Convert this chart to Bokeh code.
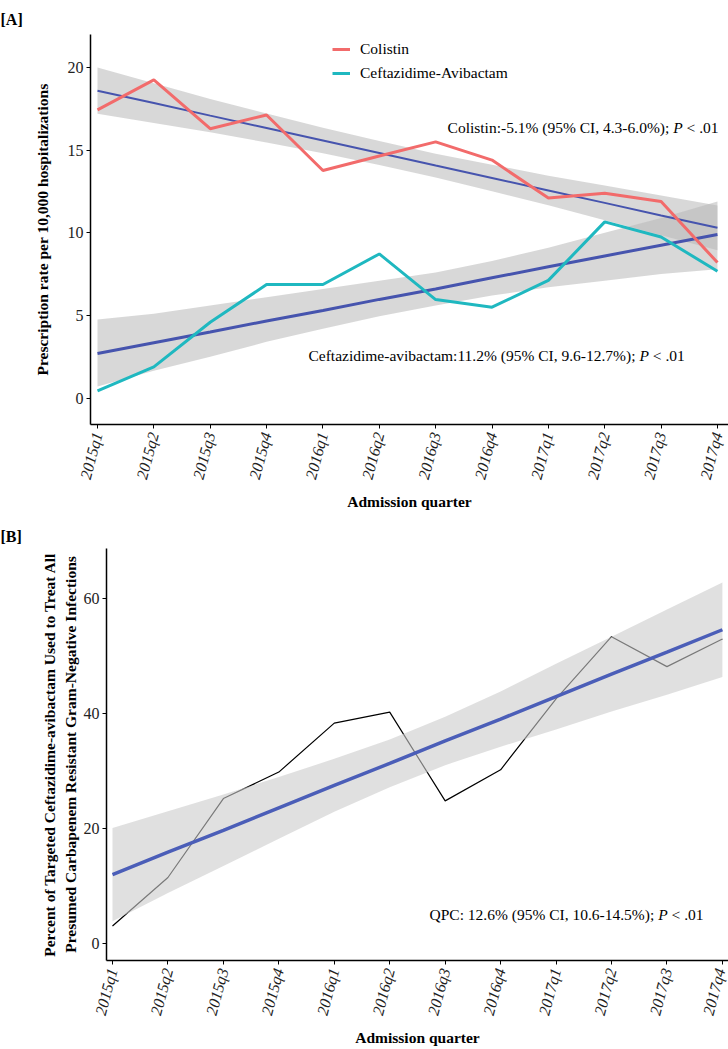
from bokeh.plotting import figure
from bokeh.layouts import column, row
from bokeh.models import Range1d, FixedTicker, Label, Legend, LegendItem
from bokeh.embed import file_html
from bokeh.resources import INLINE

# ---------------- data ----------------
quarters = ["2015q1", "2015q2", "2015q3", "2015q4", "2016q1", "2016q2",
            "2016q3", "2016q4", "2017q1", "2017q2", "2017q3", "2017q4"]

# Panel A: prescription rate per 10,000 hospitalizations
colistin = [17.44, 19.25, 16.3, 17.13, 13.77, 14.65, 15.5, 14.4, 12.1, 12.4, 11.9, 8.2]
ceftaz = [0.44, 1.89, 4.59, 6.87, 6.87, 8.72, 5.96, 5.5, 7.12, 10.66, 9.75, 7.67]

colistin_fit = [18.6, 17.85, 17.09, 16.34, 15.58, 14.83, 14.07, 13.32, 12.56, 11.81, 11.05, 10.3]
colistin_lo = [17.2, 16.65, 16.09, 15.46, 14.81, 14.11, 13.35, 12.52, 11.66, 10.76, 9.85, 8.95]
colistin_hi = [20.0, 19.05, 18.09, 17.22, 16.35, 15.55, 14.79, 14.12, 13.46, 12.86, 12.25, 11.65]

ceftaz_fit = [2.7, 3.35, 4.0, 4.66, 5.3, 5.97, 6.6, 7.28, 7.94, 8.6, 9.25, 9.9]
ceftaz_lo = [0.7, 1.65, 2.5, 3.4, 4.2, 4.95, 5.6, 6.2, 6.7, 7.1, 7.5, 7.8]
ceftaz_hi = [4.75, 5.1, 5.6, 6.1, 6.6, 7.1, 7.6, 8.3, 9.1, 10.0, 10.9, 11.9]

# Panel B: percent of targeted ceftazidime-avibactam
pct = [3.1, 11.5, 25.2, 29.8, 38.3, 40.2, 24.8, 30.2, 42.5, 53.3, 48.1, 52.9]
pct_fit = [12.0, 15.9, 19.7, 23.6, 27.5, 31.3, 35.2, 39.0, 42.9, 46.8, 50.6, 54.5]
pct_lo = [3.9, 8.8, 13.5, 18.25, 22.9, 27.15, 31.0, 34.2, 37.2, 40.3, 43.2, 46.3]
pct_hi = [20.1, 23.0, 25.9, 28.95, 32.1, 35.45, 39.4, 43.8, 48.6, 53.3, 58.0, 62.7]

yticks_a = [0, 5, 10, 15, 20]
yticks_b = [0, 20, 40, 60]

xs = list(range(len(quarters)))
FONT = "Liberation Serif"
FS = "15.5px"
TICK_FS = "16px"
RED = "#F26B6B"
TEAL = "#1FB8C0"
BLUE = "#4654AE"


def style(p, yticks):
    p.xaxis.ticker = FixedTicker(ticks=xs)
    p.xaxis.major_label_overrides = {i: q for i, q in zip(xs, quarters)}
    p.yaxis.ticker = FixedTicker(ticks=yticks)
    p.xgrid.visible = False
    p.ygrid.visible = False
    p.outline_line_color = None
    for ax in (p.xaxis[0], p.yaxis[0]):
        ax.axis_line_color = "black"
        ax.axis_line_width = 1.5
        ax.major_tick_line_color = "black"
        ax.major_tick_line_width = 1
        ax.major_tick_out = 4
        ax.major_tick_in = 0
        ax.minor_tick_line_color = None
        ax.major_label_text_font = FONT
        ax.major_label_text_font_size = TICK_FS
        ax.major_label_text_color = "#222222"
        ax.axis_label_text_font = FONT
        ax.axis_label_text_font_size = FS
        ax.axis_label_text_font_style = "bold"
        ax.axis_label_text_color = "black"
    p.xaxis.major_label_orientation = 1.31
    p.xaxis.major_label_text_font_style = "italic"
    p.xaxis.major_label_standoff = 4
    p.yaxis.major_label_standoff = 3
    p.title.text_font = FONT
    p.title.text_font_size = "16px"
    p.title.text_font_style = "bold"
    p.title.text_color = "black"
    p.title.align = "left"


def add_note(p, x, y, before):
    # text ending with italic "P < .01", right-aligned at data x
    common = dict(x=x, y=y, text_font=FONT, text_font_size=FS, text_baseline="middle",
                  text_align="right", text_color="black")
    p.add_layout(Label(text="< .01", x_offset=0, **common))
    p.add_layout(Label(text="P", x_offset=-35.9, text_font_style="italic", **common))
    p.add_layout(Label(text=before, x_offset=-49.3, **common))


# ---------------- Panel A ----------------
pA = figure(width=728, height=513, output_backend="svg", toolbar_location=None,
            x_range=Range1d(-0.124, 11.196), y_range=Range1d(-1.6, 22.0),
            title="[A]",
            min_border_left=90, min_border_right=0, min_border_top=34, min_border_bottom=86,
            background_fill_color="white", border_fill_color="white")
style(pA, yticks_a)
pA.title.offset = -90
pA.title.standoff = 14
pA.xaxis.axis_label = "Admission quarter"
pA.yaxis.axis_label = "Prescription rate per 10,000 hospitalizations"
pA.xaxis.axis_label_standoff = 7
pA.yaxis.axis_label_standoff = 14

band_kw = dict(fill_color="#b8b8b8", fill_alpha=0.55)
pA.varea(x=xs, y1=colistin_lo, y2=colistin_hi, **band_kw)
pA.varea(x=xs, y1=ceftaz_lo, y2=ceftaz_hi, **band_kw)
pA.line(xs, colistin_fit, line_color=BLUE, line_width=2)
pA.line(xs, ceftaz_fit, line_color=BLUE, line_width=3)
r_col = pA.line(xs, colistin, line_color=RED, line_width=3)
r_cef = pA.line(xs, ceftaz, line_color=TEAL, line_width=3)

legend = Legend(items=[LegendItem(label="Colistin", renderers=[r_col]),
                       LegendItem(label="Ceftazidime-Avibactam", renderers=[r_cef])],
                location=(242, 341), padding=0, margin=0, spacing=4,
                glyph_width=18, glyph_height=20, label_height=20, label_standoff=10,
                border_line_color=None, background_fill_alpha=0,
                label_text_font=FONT, label_text_font_size=FS, label_text_color="black")
pA.add_layout(legend)

add_note(pA, 11.02, 16.4, "Colistin:-5.1% (95% CI, 4.3-6.0%);")
add_note(pA, 10.42, 2.55, "Ceftazidime-avibactam:11.2% (95% CI, 9.6-12.7%);")

# ---------------- Panel B ----------------
pB = figure(width=728, height=536, output_backend="svg", toolbar_location=None,
            x_range=Range1d(-0.108, 11.11), y_range=Range1d(-2.9, 68.6),
            title="[B]",
            min_border_left=106, min_border_right=0, min_border_top=35, min_border_bottom=86,
            background_fill_color="white", border_fill_color="white")
style(pB, yticks_b)
pB.title.offset = -106
pB.title.standoff = 8
pB.xaxis.axis_label = "Admission quarter"
pB.yaxis.axis_label = ("Percent of Targeted Ceftazidime-avibactam Used to Treat All\n"
                       "Presumed Carbapenem Resistant Gram-Negative Infections")
pB.xaxis.axis_label_standoff = 7
pB.yaxis.axis_label_standoff = 2

pB.line(xs, pct, line_color="black", line_width=1.2)
pB.varea(x=xs, y1=pct_lo, y2=pct_hi, fill_color="#cccccc", fill_alpha=0.6)
pB.line(xs, pct_fit, line_color="#4B5EB8", line_width=3.5)

add_note(pB, 10.66, 5.0, "QPC: 12.6% (95% CI, 10.6-14.5%);")

layout = column(pA, row(pB, spacing=0), spacing=0)
open("out.html", "w").write(file_html(layout, INLINE))
